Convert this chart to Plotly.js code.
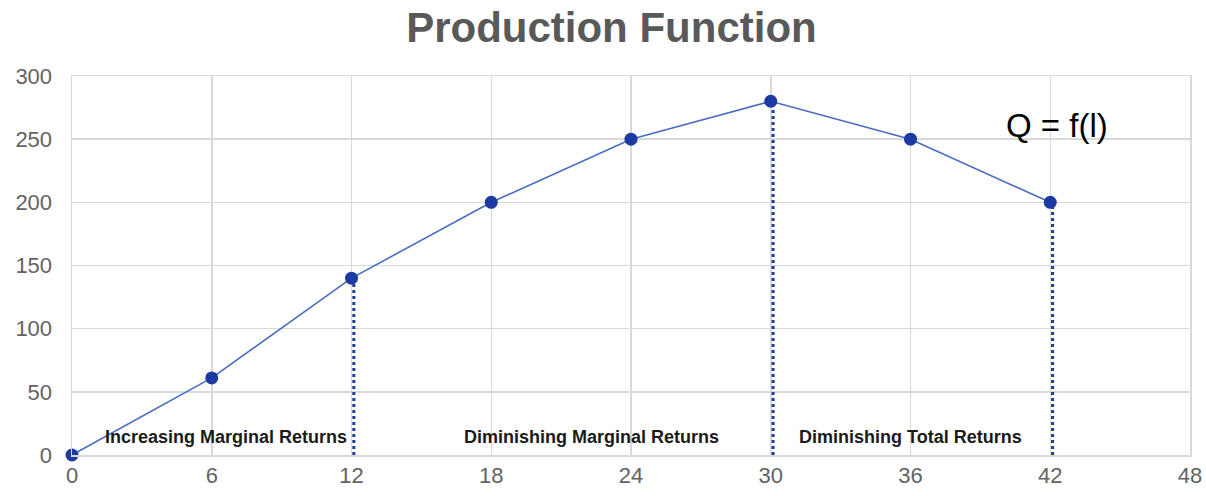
<!DOCTYPE html>
<html>
<head>
<meta charset="utf-8">
<script src="https://cdn.plot.ly/plotly-3.0.1.min.js"></script>
<style>body{margin:0;padding:0;background:#fff}#chart{width:1206px;height:496px}</style>
</head>
<body>
<div id="chart"></div>
<script>
// Data
const labor = [0, 6, 12, 18, 24, 30, 36, 42];
const output = [0, 61, 140, 200, 250, 280, 250, 200];
const dropLinesX = [12, 30, 42];
const dropLinesY = [140, 280, 200];
const regionLabels = ["Increasing Marginal Returns", "Diminishing Marginal Returns", "Diminishing Total Returns"];
const regionLabelX = [6.6, 22.3, 36];
const xTicks = [0, 6, 12, 18, 24, 30, 36, 42, 48];
const yTicks = [0, 50, 100, 150, 200, 250, 300];

const traces = [];
dropLinesX.forEach((x, i) => {
  traces.push({
    x: [x + 0.1, x + 0.1], y: [0, dropLinesY[i]],
    mode: 'lines', type: 'scatter', hoverinfo: 'skip', showlegend: false,
    line: {color: '#1f3b9c', width: 3, dash: 'dot'}
  });
});
traces.push({
  x: labor, y: output, mode: 'lines+markers', type: 'scatter', showlegend: false, cliponaxis: false,
  line: {color: '#4a6cc2', width: 1.6},
  marker: {size: 13, color: '#1c3aa2', line: {width: 0}}
});

const annotations = regionLabels.map((t, i) => ({
  x: regionLabelX[i], y: 14, xref: 'x', yref: 'y', text: t, showarrow: false,
  font: {family: 'Liberation Sans, Arial, sans-serif', size: 18, color: '#1a1a1a', weight: 'bold'},
  xanchor: 'center', yanchor: 'middle'
}));
annotations.push({
  x: 42.3, y: 261, xref: 'x', yref: 'y', text: 'Q = f(l)', showarrow: false,
  font: {family: 'Liberation Sans, Arial, sans-serif', size: 33, color: '#000'},
  xanchor: 'center', yanchor: 'middle'
});

const layout = {
  width: 1206, height: 496,
  margin: {l: 72, r: 16, t: 76, b: 41},
  paper_bgcolor: '#fff', plot_bgcolor: '#fff',
  title: {text: '<b>Production Function</b>', x: 0.507, xanchor: 'center', y: 0.945, yanchor: 'middle',
    font: {family: 'Liberation Sans, Arial, sans-serif', size: 42, color: '#595959'}},
  xaxis: {range: [0, 48], tickvals: xTicks, ticktext: xTicks.map(String), showgrid: true, gridcolor: '#d9d9d9', gridwidth: 1.5,
    zeroline: false, showline: true, linecolor: '#d9d9d9', linewidth: 1.5, mirror: true, ticks: '',
    tickfont: {family: 'Liberation Sans, Arial, sans-serif', size: 22, color: '#636363'}, fixedrange: true},
  yaxis: {range: [0, 300], tickvals: yTicks, ticktext: yTicks.map(String), showgrid: true, gridcolor: '#d9d9d9', gridwidth: 1.5,
    zeroline: false, showline: true, linecolor: '#d9d9d9', linewidth: 1.5, mirror: true, ticks: '', ticklabelstandoff: 14,
    tickfont: {family: 'Liberation Sans, Arial, sans-serif', size: 22, color: '#636363'}, fixedrange: true},
  annotations: annotations
};

Plotly.newPlot('chart', traces, layout, {displayModeBar: false, staticPlot: true});
</script>
</body>
</html>
